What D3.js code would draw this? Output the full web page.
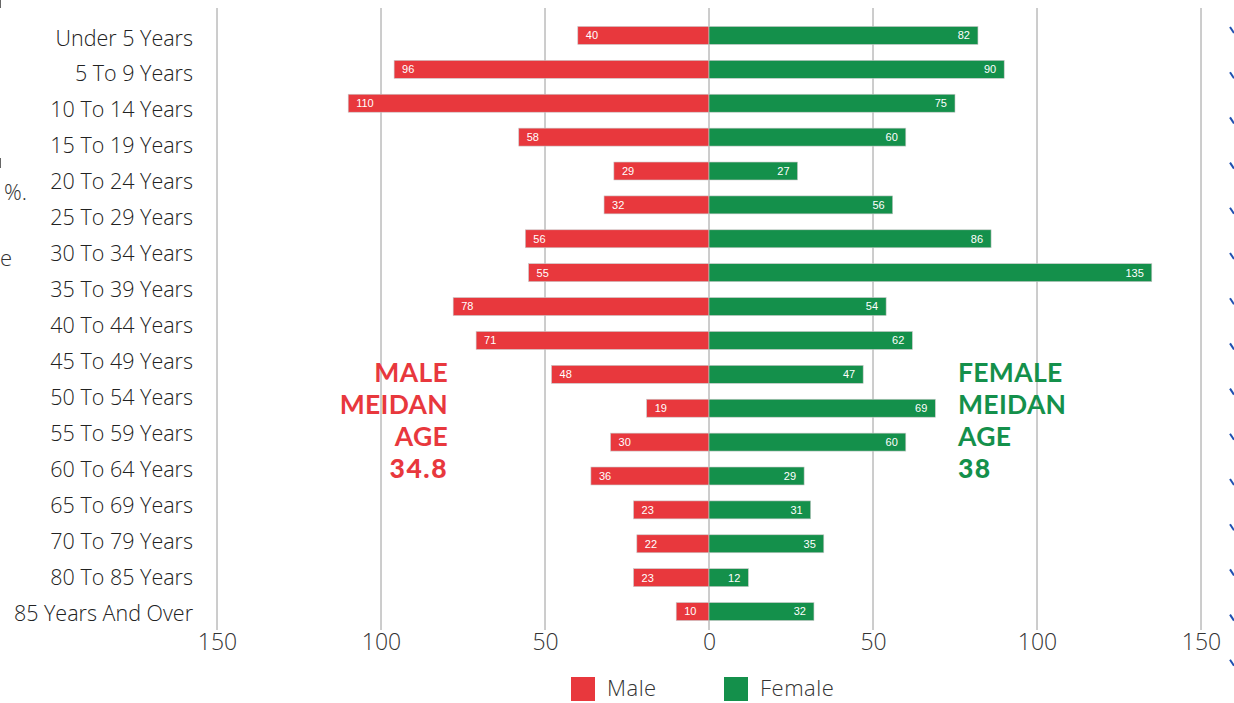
<!DOCTYPE html>
<html>
<head>
<meta charset="utf-8">
<script src="https://cdn.jsdelivr.net/npm/d3@7"></script>
<style>
  body { margin: 0; background: #fff; }
  svg { display: block; font-family: "Open Sans", Lato, sans-serif; }
</style>
</head>
<body>
<div id="chart"></div>
<script>
// age groups, top to bottom (17 names spread over the 18 bars, as in the source)
const ageGroups = ['Under 5 Years', '5 To 9 Years', '10 To 14 Years', '15 To 19 Years',
  '20 To 24 Years', '25 To 29 Years', '30 To 34 Years', '35 To 39 Years', '40 To 44 Years',
  '45 To 49 Years', '50 To 54 Years', '55 To 59 Years', '60 To 64 Years', '65 To 69 Years',
  '70 To 79 Years', '80 To 85 Years', '85 Years And Over'];
const maleValues = [40, 96, 110, 58, 29, 32, 56, 55, 78, 71, 48, 19, 30, 36, 23, 22, 23, 10];
const femaleValues = [82, 90, 75, 60, 27, 56, 86, 135, 54, 62, 47, 69, 60, 29, 31, 35, 12, 32];
const tickValues = [-150, -100, -50, 0, 50, 100, 150];
const maleMedian = ['MALE', 'MEIDAN', 'AGE', '34.8'];
const femaleMedian = ['FEMALE', 'MEIDAN', 'AGE', '38'];

const width = 1234, height = 703;
const red = '#e8383d', green = '#14904b';

const svg = d3.select('#chart').append('svg')
    .attr('width', width)
    .attr('height', height);

let x = d3.scaleLinear()
    .domain([-150, 150])
    .range([217, 1201]);

let y = d3.scaleBand()
    .domain(d3.range(maleValues.length))
    .range([18, 629])
    .paddingInner(0.47)
    .paddingOuter(0.25);

// labels run on their own spacing
let yLabel = d3.scalePoint()
    .domain(ageGroups)
    .range([38, 613]);

// grid
svg.append('g')
    .selectAll('line')
    .data(tickValues)
    .join('line')
        .attr('x1', d => x(d)).attr('x2', d => x(d))
        .attr('y1', 8).attr('y2', 630)
        .attr('stroke', '#9a9a9a')
        .attr('stroke-width', 1);

// x axis, labels only
let axis = d3.axisBottom(x)
    .tickValues(tickValues)
    .tickFormat(d => Math.abs(d))
    .tickSize(0)
    .tickPadding(0);
let axisG = svg.append('g')
    .attr('transform', 'translate(0,634)')
    .call(axis);
axisG.select('.domain').remove();
axisG.selectAll('text')
    .attr('dy', '0.71em')
    .attr('fill', '#333')
    .style('font-size', '23px')
    .style('font-weight', 300)
    .style('font-family', '"Open Sans", sans-serif');

// category labels
svg.append('g')
    .selectAll('text')
    .data(ageGroups)
    .join('text')
        .attr('x', 193)
        .attr('y', d => yLabel(d))
        .attr('dy', '0.35em')
        .attr('text-anchor', 'end')
        .attr('fill', '#222')
        .style('font-size', '21.5px')
        .style('font-weight', 300)
        .text(d => d);

// male bars
svg.append('g')
    .selectAll('rect')
    .data(maleValues)
    .join('rect')
        .attr('x', d => x(-d))
        .attr('y', (d, i) => y(i))
        .attr('width', d => x(0) - x(-d))
        .attr('height', y.bandwidth())
        .attr('fill', red)
        .attr('stroke', '#c9c9c9')
        .attr('stroke-width', 0.6);

// female bars
svg.append('g')
    .selectAll('rect')
    .data(femaleValues)
    .join('rect')
        .attr('x', x(0))
        .attr('y', (d, i) => y(i))
        .attr('width', d => x(d) - x(0))
        .attr('height', y.bandwidth())
        .attr('fill', green)
        .attr('stroke', '#c9c9c9')
        .attr('stroke-width', 0.6);

// value labels inside the bars
svg.append('g')
    .selectAll('text')
    .data(maleValues)
    .join('text')
        .attr('x', d => x(-d) + 8)
        .attr('y', (d, i) => y(i) + y.bandwidth() / 2)
        .attr('dy', '0.35em')
        .attr('fill', '#fff')
        .style('font-size', '11px')
        .style('font-family', 'Arial, "Liberation Sans", sans-serif')
        .text(d => d);

svg.append('g')
    .selectAll('text')
    .data(femaleValues)
    .join('text')
        .attr('x', d => x(d) - 8)
        .attr('y', (d, i) => y(i) + y.bandwidth() / 2)
        .attr('dy', '0.35em')
        .attr('text-anchor', 'end')
        .attr('fill', '#fff')
        .style('font-size', '11px')
        .style('font-family', 'Arial, "Liberation Sans", sans-serif')
        .text(d => d);

// median age notes
svg.append('g')
    .selectAll('text')
    .data(maleMedian)
    .join('text')
        .attr('x', 448)
        .attr('y', (d, i) => 382 + i * 32)
        .attr('text-anchor', 'end')
        .attr('fill', red)
        .style('font-family', 'Lato, sans-serif')
        .style('font-size', '26.5px')
        .style('font-weight', (d, i) => i === 3 ? 900 : 700)
        .style('letter-spacing', (d, i) => i === 3 ? '1.5px' : '0.3px')
        .text(d => d);

svg.append('g')
    .selectAll('text')
    .data(femaleMedian)
    .join('text')
        .attr('x', 958)
        .attr('y', (d, i) => 382 + i * 32)
        .attr('fill', green)
        .style('font-family', 'Lato, sans-serif')
        .style('font-size', '26.5px')
        .style('font-weight', (d, i) => i === 3 ? 900 : 700)
        .style('letter-spacing', (d, i) => i === 3 ? '1.5px' : '0.3px')
        .text(d => d);

// legend
let legend = svg.append('g').attr('transform', 'translate(571,677)');
[['Male', red, 0], ['Female', green, 153]].forEach(([name, color, dx]) => {
    legend.append('rect')
        .attr('x', dx).attr('y', 0)
        .attr('width', 24).attr('height', 24)
        .attr('fill', color);
    legend.append('text')
        .attr('x', dx + 36).attr('y', 11)
        .attr('dy', '0.36em')
        .attr('fill', '#333')
        .style('font-size', '22px')
        .style('font-weight', 300)
        .style('letter-spacing', '0.5px')
        .text(name);
});

// bits of the surrounding page that show at the edges
svg.append('text').attr('x', 4).attr('y', 200).attr('fill', '#333')
    .style('font-size', '22px').style('font-weight', 300).text('%.');
svg.append('text').attr('x', 0).attr('y', 266).attr('fill', '#333')
    .style('font-size', '22px').style('font-weight', 300).text('e');
svg.append('line').attr('x1', 0.5).attr('x2', 0.5).attr('y1', 0).attr('y2', 8)
    .attr('stroke', '#666');
svg.append('line').attr('x1', 0.5).attr('x2', 0.5).attr('y1', 158).attr('y2', 168)
    .attr('stroke', '#666');
svg.append('g')
    .selectAll('line')
    .data(d3.range(15))
    .join('line')
        .attr('x1', 1230).attr('x2', 1234)
        .attr('y1', d => 27 + d * 45.2).attr('y2', d => 33 + d * 45.2)
        .attr('stroke', '#1f4fb0')
        .attr('stroke-width', 2);
</script>
</body>
</html>
